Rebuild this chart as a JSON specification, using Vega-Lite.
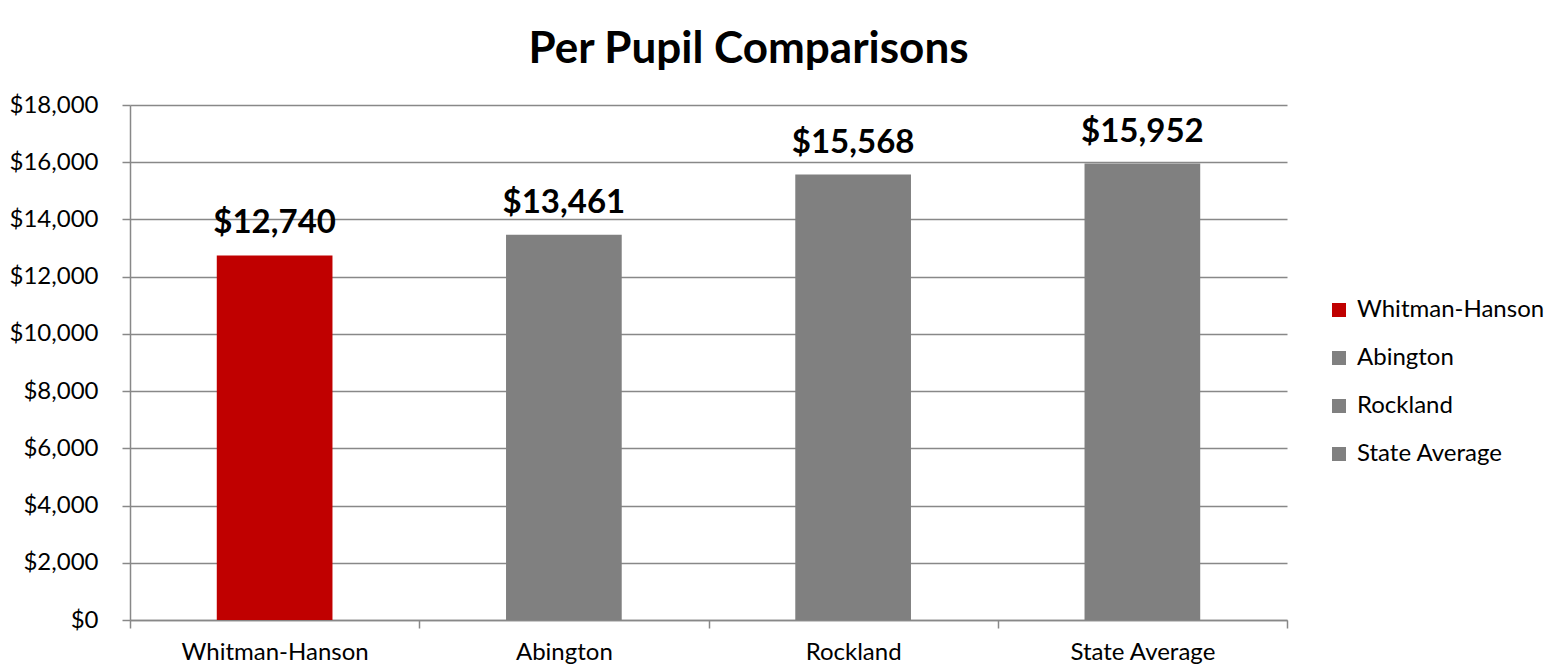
{
  "$schema": "https://vega.github.io/schema/vega-lite/v6.json",
  "width": 1157,
  "height": 515,
  "autosize": "none",
  "padding": {"left": 130, "top": 105, "right": 270, "bottom": 48},
  "background": "white",
  "title": {
    "text": "Per Pupil Comparisons",
    "fontSize": 44,
    "font": "Lato",
    "fontWeight": "bold",
    "color": "black",
    "offset": 21,
    "dx": 40
  },
  "data": {
    "values": [
      {"school": "Whitman-Hanson", "spend": 12740},
      {"school": "Abington", "spend": 13461},
      {"school": "Rockland", "spend": 15568},
      {"school": "State Average", "spend": 15952}
    ]
  },
  "encoding": {
    "x": {
      "field": "school",
      "type": "nominal",
      "sort": null,
      "scale": {"paddingInner": 0, "paddingOuter": 0},
      "axis": {
        "title": null,
        "labelAngle": 0,
        "labelFontSize": 24,
        "labelFont": "Lato",
        "labelColor": "black",
        "labelPadding": 12,
        "labelLimit": 400,
        "tickBand": "extent",
        "tickSize": 8,
        "tickColor": "#888888",
        "tickWidth": 1.5,
        "domainColor": "#888888",
        "domainWidth": 1.5
      }
    },
    "y": {
      "field": "spend",
      "type": "quantitative",
      "scale": {"domain": [0, 18000]},
      "axis": {
        "title": null,
        "values": [0, 2000, 4000, 6000, 8000, 10000, 12000, 14000, 16000, 18000],
        "format": "$,.0f",
        "labelFontSize": 24,
        "labelFont": "Lato",
        "labelColor": "black",
        "labelPadding": 24,
        "tickSize": 8,
        "tickColor": "#888888",
        "tickWidth": 1.5,
        "domainColor": "#888888",
        "domainWidth": 1.5,
        "gridColor": "#888888",
        "gridWidth": 1.5
      }
    }
  },
  "layer": [
    {
      "mark": {"type": "bar", "width": {"band": 0.4}},
      "encoding": {
        "color": {
          "field": "school",
          "type": "nominal",
          "sort": null,
          "scale": {
            "domain": ["Whitman-Hanson", "Abington", "Rockland", "State Average"],
            "range": ["#C00000", "#808080", "#808080", "#808080"]
          },
          "legend": {
            "title": null,
            "orient": "none",
            "legendX": 1197,
            "legendY": 193,
            "symbolType": "square",
            "symbolSize": 196,
            "symbolStrokeWidth": 0,
            "symbolOpacity": 1,
            "labelFontSize": 24,
            "labelFont": "Lato",
            "labelColor": "black",
            "labelOffset": 6,
            "labelLimit": 400,
            "rowPadding": 24
          }
        }
      }
    },
    {
      "mark": {
        "type": "text",
        "baseline": "alphabetic",
        "dy": -22,
        "fontSize": 33,
        "font": "Lato",
        "fontWeight": "bold",
        "color": "black"
      },
      "encoding": {
        "text": {"field": "spend", "type": "quantitative", "format": "$,.0f"}
      }
    }
  ],
  "config": {
    "view": {"stroke": null}
  }
}
